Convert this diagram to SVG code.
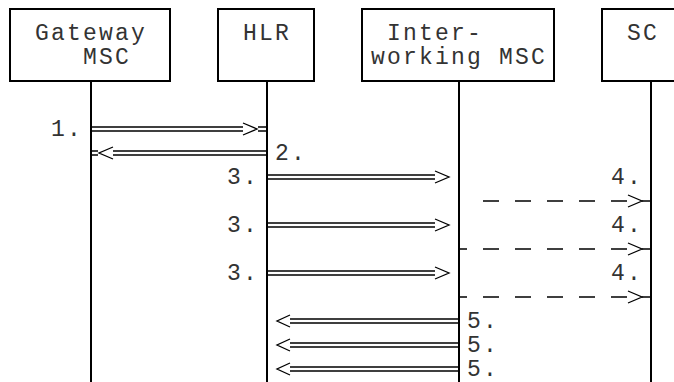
<svg xmlns="http://www.w3.org/2000/svg" width="674" height="382" viewBox="0 0 674 382">
<style>
  .box { fill: #fff; stroke: #000; stroke-width: 2; }
  .life { stroke: #000; stroke-width: 2; fill: none; }
  .dbl { stroke: #000; stroke-width: 1.5; fill: none; }
  .chev { stroke: #000; stroke-width: 1.3; fill: none; stroke-linejoin: miter; }
  .dash { stroke: #000; stroke-width: 1.6; fill: none; }
  text { font-family: "Liberation Mono", "DejaVu Sans Mono", monospace; font-size: 23px; letter-spacing: 2.2px; fill: #333; }
</style>
<rect width="674" height="382" fill="#fff"/>

<g id="lifelines">
  <line class="life" x1="91" y1="81" x2="91" y2="382"/>
  <line class="life" x1="267" y1="81" x2="267" y2="382"/>
  <line class="life" x1="459" y1="81" x2="459" y2="382"/>
  <line class="life" x1="651" y1="81" x2="651" y2="382"/>
</g>

<g id="gateway-msc">
  <rect class="box" x="10" y="9" width="160" height="72"/>
  <text x="35" y="40">Gateway</text>
  <text x="83" y="64">MSC</text>
</g>
<g id="hlr">
  <rect class="box" x="218" y="9" width="96" height="72"/>
  <text x="243" y="40">HLR</text>
</g>
<g id="interworking-msc">
  <rect class="box" x="362" y="9" width="192" height="72"/>
  <text x="387" y="40">Inter-</text>
  <text x="371" y="64">working MSC</text>
</g>
<g id="sc">
  <rect class="box" x="602" y="9" width="96" height="72"/>
  <text x="627" y="40">SC</text>
</g>

<g id="connectors">
  <!-- 1. Gateway -> HLR -->
  <path class="dbl" d="M91 127H243M91 131H243M258 127H267M258 131H267"/>
  <polyline class="chev" points="243,123 257,129 243,135"/>
  <!-- 2. HLR -> Gateway -->
  <path class="dbl" d="M91 151H98M91 155H98M113 151H267M113 155H267"/>
  <polyline class="chev" points="113,147 99,153 113,159"/>
  <!-- 3. HLR -> IW MSC (x3) -->
  <path class="dbl" d="M267 175H435M267 179H435"/>
  <polyline class="chev" points="435,171 449,177 435,183"/>
  <path class="dbl" d="M267 223H435M267 227H435"/>
  <polyline class="chev" points="435,219 449,225 435,231"/>
  <path class="dbl" d="M267 271H435M267 275H435"/>
  <polyline class="chev" points="435,267 449,273 435,279"/>
  <!-- 4. IW MSC -> SC dashed (x3) -->
  <path class="dash" d="M483 201H499M515 201H531M547 201H563M579 201H595M611 201H627M642 201H651"/>
  <polyline class="chev" points="628,195 642,201 628,207"/>
  <path class="dash" d="M459 249H467M483 249H499M515 249H531M547 249H563M579 249H595M611 249H627M642 249H651"/>
  <polyline class="chev" points="628,243 642,249 628,255"/>
  <path class="dash" d="M459 297H467M483 297H499M515 297H531M547 297H563M579 297H595M611 297H627M642 297H651"/>
  <polyline class="chev" points="628,291 642,297 628,303"/>
  <!-- 5. IW MSC -> HLR (x3) -->
  <path class="dbl" d="M290 319H459M290 323H459"/>
  <polyline class="chev" points="290,315 277,321 290,327"/>
  <path class="dbl" d="M290 343H459M290 347H459"/>
  <polyline class="chev" points="290,339 277,345 290,351"/>
  <path class="dbl" d="M290 367H459M290 371H459"/>
  <polyline class="chev" points="290,363 277,369 290,375"/>
</g>

<g id="labels">
  <text x="51" y="136">1.</text>
  <text x="275" y="160">2.</text>
  <text x="227" y="184">3.</text>
  <text x="227" y="232">3.</text>
  <text x="227" y="280">3.</text>
  <text x="611" y="184">4.</text>
  <text x="611" y="232">4.</text>
  <text x="611" y="280">4.</text>
  <text x="467" y="328">5.</text>
  <text x="467" y="352">5.</text>
  <text x="467" y="376">5.</text>
</g>
</svg>
